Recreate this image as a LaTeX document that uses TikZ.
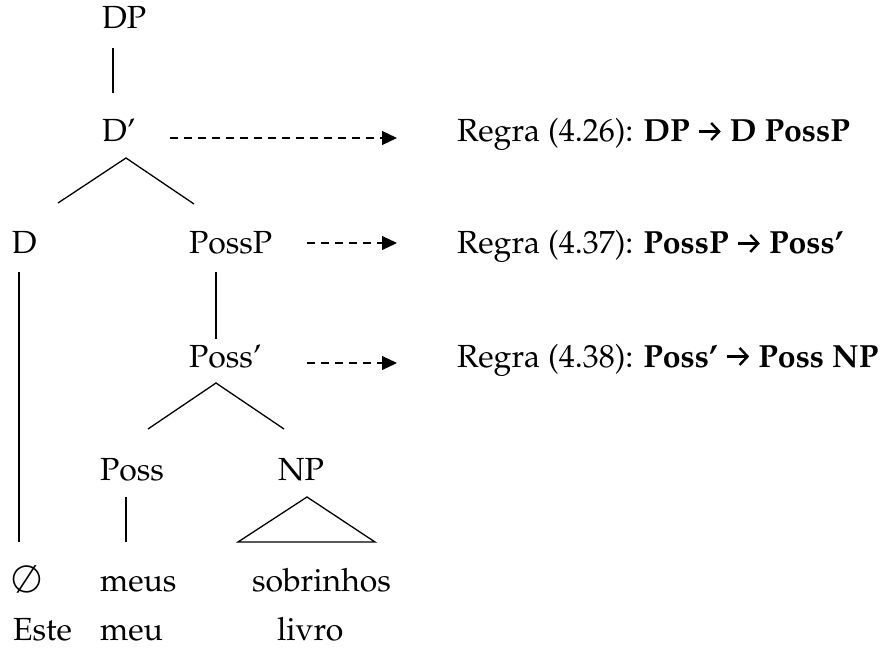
\documentclass[tikz,border=0pt]{standalone}
\usepackage[T1]{fontenc}
\usepackage{mathpazo}
\usetikzlibrary{arrows.meta}
\tikzset{
 syn label/.style={anchor=base west,inner sep=0pt,outer sep=0pt,
                   font=\fontsize{32}{38}\selectfont},
 syn branch/.style={line width=1.3pt},
 syn rule/.style={line width=1.2pt,dash pattern=on 8pt off 6pt,
                  -{Triangle[length=15pt,width=14pt]}},
 syn rule text/.style={syn label}
}
\newcommand{\synarrow}{\tikz[baseline=-0.7ex]\draw[line width=2.4pt,
  -{Straight Barb[length=8pt,width=17pt,line width=2.4pt]}] (0pt,0pt)--(22pt,0pt);}

\begin{document}
\begin{tikzpicture}[x=1pt,y=-1pt]
 \useasboundingbox (0,0) rectangle (895,655);
 % tree labels
 \node[syn label] (dp) at (102,29) {DP};
 \node[syn label] (dbar) at (102,142) {D'};
 \node[syn label] (d) at (12,254) {D};
 \node[syn label] (possp) at (189,254) {PossP};
 \node[syn label] (possbar) at (189,367) {Poss'};
 \node[syn label] (poss) at (100,480) {Poss};
 \node[syn label] (np) at (278,480) {NP};
 \node[syn label] (nul) at (12,592) {\fontsize{38}{40}\selectfont$\emptyset$};
 \node[syn label] (meus) at (100,591) {meus};
 \node[syn label] (sobr) at (252,591) {sobrinhos};
 \node[syn label] (este) at (13,640) {Este};
 \node[syn label] (meu) at (100,640) {meu};
 \node[syn label] (livro) at (277,640) {livro};

 % rules
 \node[syn rule text] (rule1) at (457,142) {Regra (4.26): \textbf{DP \synarrow{} D PossP}};
 \node[syn rule text] (rule2) at (457,254) {Regra (4.37): \textbf{PossP \synarrow{} Poss'}};
 \node[syn rule text] (rule3) at (457,367) {Regra (4.38): \textbf{Poss' \synarrow{} Poss NP}};

 % joints
 \coordinate (dp-b) at (113,48);
 \coordinate (dbar-t) at (113,93);
 \coordinate (dbar-b) at (126,158);
 \coordinate (d-t) at (58,203);
 \coordinate (possp-t) at (194,204);
 \coordinate (d-b) at (19,272);
 \coordinate (nul-t) at (19,542);
 \coordinate (possp-b) at (216,272);
 \coordinate (possbar-t) at (216,339);
 \coordinate (possbar-b) at (216,383);
 \coordinate (poss-t) at (148,429);
 \coordinate (np-t) at (284,429);
 \coordinate (poss-b) at (126,497);
 \coordinate (meus-t) at (126,542);
 \coordinate (np-b) at (307,497);
 \coordinate (sobr-l) at (238,542);
 \coordinate (sobr-r) at (375,542);

 \draw[syn branch] (dp-b)--(dbar-t);
 \draw[syn branch] (d-t)--(dbar-b)--(possp-t);
 \draw[syn branch] (d-b)--(nul-t);
 \draw[syn branch] (possp-b)--(possbar-t);
 \draw[syn branch] (poss-t)--(possbar-b)--(np-t);
 \draw[syn branch] (poss-b)--(meus-t);
 \draw[syn branch] (np-b)--(sobr-l)--(sobr-r)--cycle;

 % dashed arrows to the rules
 \coordinate (a1) at (170,138);
 \coordinate (a2) at (307,243);
 \coordinate (a3) at (307,363);
 \draw[syn rule] (a1)--(a1 -| 397,0);
 \draw[syn rule] (a2)--(a2 -| 397,0);
 \draw[syn rule] (a3)--(a3 -| 397,0);
\end{tikzpicture}
\end{document}
